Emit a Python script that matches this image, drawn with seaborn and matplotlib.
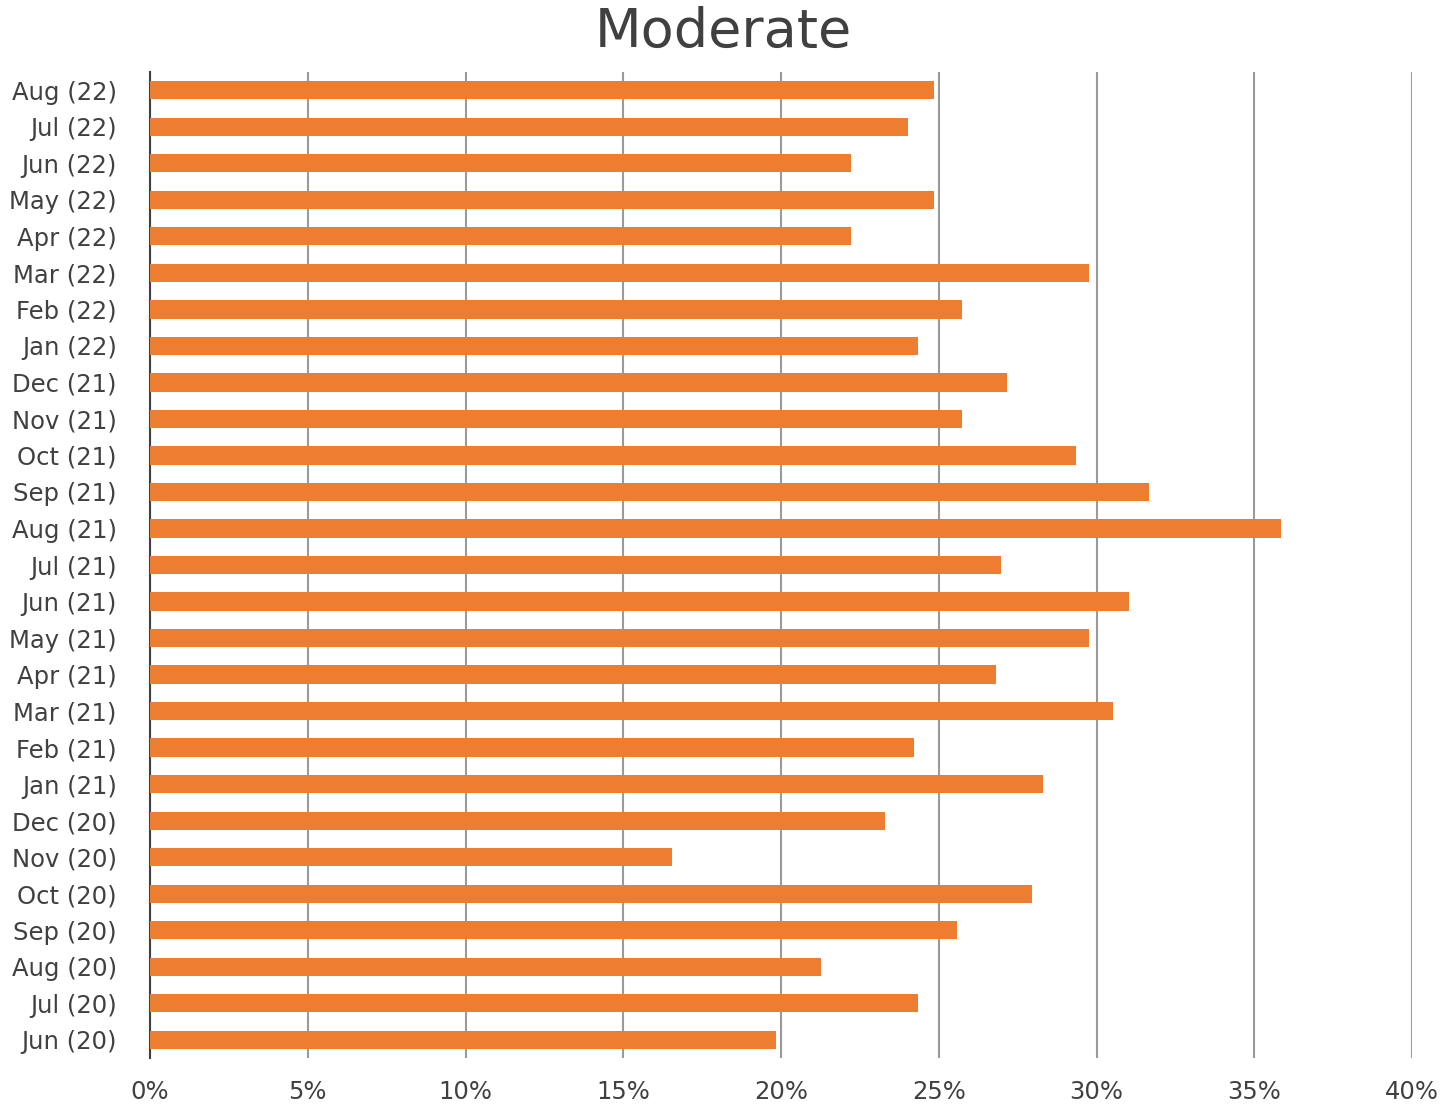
import matplotlib
matplotlib.use("Agg")
import matplotlib.pyplot as plt
import seaborn as sns
import pandas as pd
from matplotlib.ticker import PercentFormatter, MultipleLocator

months = [
    "Aug (22)", "Jul (22)", "Jun (22)", "May (22)", "Apr (22)", "Mar (22)",
    "Feb (22)", "Jan (22)", "Dec (21)", "Nov (21)", "Oct (21)", "Sep (21)",
    "Aug (21)", "Jul (21)", "Jun (21)", "May (21)", "Apr (21)", "Mar (21)",
    "Feb (21)", "Jan (21)", "Dec (20)", "Nov (20)", "Oct (20)", "Sep (20)",
    "Aug (20)", "Jul (20)", "Jun (20)",
]
moderate = [
    24.85, 24.03, 22.22, 24.85, 22.22, 29.76,
    25.74, 24.34, 27.16, 25.74, 29.35, 31.66,
    35.85, 26.97, 31.03, 29.76, 26.81, 30.52,
    24.22, 28.30, 23.30, 16.55, 27.96, 25.58,
    21.27, 24.34, 19.84,
]

df = pd.DataFrame({"month": months, "share": moderate})

sns.set_theme(style="white")
plt.rcParams["font.family"] = ["DejaVu Sans"]

fig = plt.figure(figsize=(14.47, 11.07), dpi=100)
ax = fig.add_axes([150 / 1447, 1 - 1058 / 1107, (1412 - 150) / 1447, (1058 - 72) / 1107])

sns.barplot(data=df, x="share", y="month", order=months, color="#ED7D31",
            saturation=1, width=0.5, linewidth=0, ax=ax, zorder=3)

ax.set_xlim(0, 40)
ax.set_ylim(len(months) - 0.5, -0.5)
ax.xaxis.set_major_locator(MultipleLocator(5))
ax.xaxis.set_major_formatter(PercentFormatter(decimals=0))
ax.grid(axis="x", color="#9a9a9a", linewidth=1.5, zorder=0)
ax.set_axisbelow(True)

for side in ("top", "right", "bottom"):
    ax.spines[side].set_visible(False)
ax.spines["left"].set_color("#404040")
ax.spines["left"].set_linewidth(1.5)

ax.set_xlabel("")
ax.set_ylabel("")
ax.tick_params(axis="both", length=0, labelsize=17.5, labelcolor="#404040")
ax.tick_params(axis="x", pad=16)
ax.tick_params(axis="y", pad=24)

fig.suptitle("Moderate", fontsize=39, color="#404040", y=1 - 32 / 1107, va="center")

fig.savefig("out.png", dpi=100)
